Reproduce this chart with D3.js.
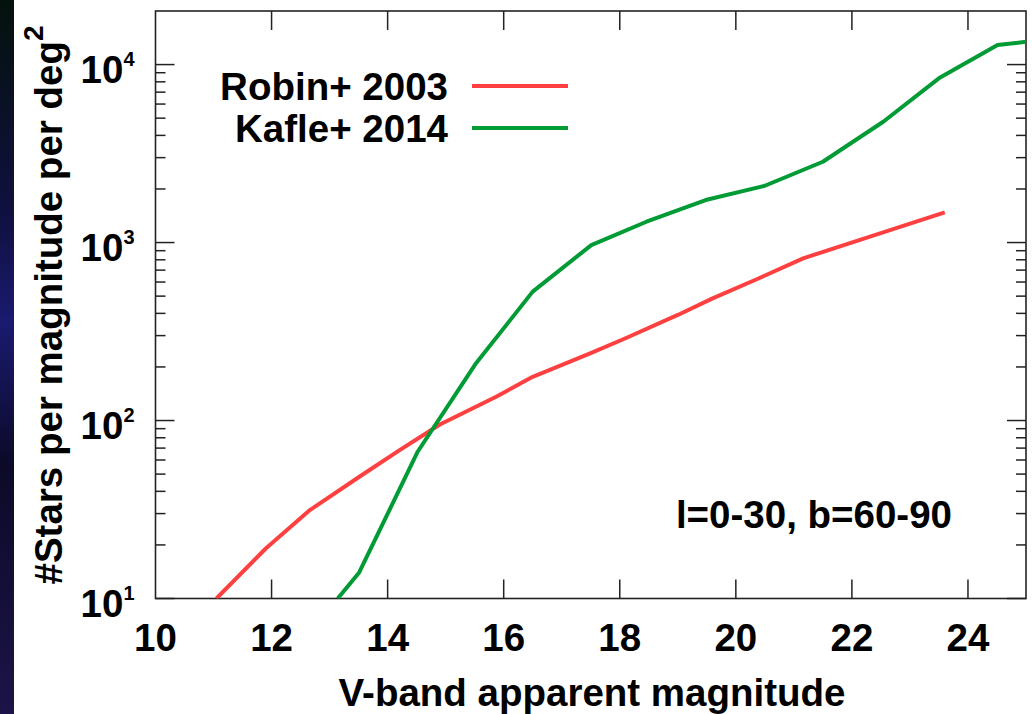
<!DOCTYPE html>
<html>
<head>
<meta charset="utf-8">
<script src="https://cdn.jsdelivr.net/npm/d3@7"></script>
<style>
  html, body { margin: 0; padding: 0; background: #fff; }
  svg { display: block; }
  text { font-family: "Liberation Sans", Arial, Helvetica, sans-serif; font-weight: bold; fill: #000; }
</style>
</head>
<body>
<svg id="chart" width="1033" height="714"></svg>
<script>
// ---- data ----
const seriesNames = ["Robin+ 2003", "Kafle+ 2014"];
const seriesColors = ["#ff4040", "#009b34"];
const robinMag = [11.05, 11.9, 12.66, 13.5, 14.2, 14.9, 15.87, 16.5, 17.5, 18.1, 19.0, 19.6, 20.4, 21.16, 22.71, 23.6];
const robinVal = [10, 19.1, 31.4, 48, 68, 95, 136, 176, 239, 290, 392, 486, 630, 815, 1191, 1479];
const kafleMag = [13.14, 13.51, 14.52, 15.51, 16.5, 17.51, 18.46, 19.48, 20.5, 21.5, 22.54, 23.52, 24.51, 25.0];
const kafleVal = [10, 14.0, 67, 207, 530, 968, 1309, 1733, 2085, 2845, 4775, 8470, 12880, 13430];
const xTicks = [10, 12, 14, 16, 18, 20, 22, 24];
const yTicks = [10, 100, 1000, 10000];
const xLabel = "V-band apparent magnitude";
const yLabel = "#Stars per magnitude per deg";
const yLabelSup = "2";
const annotation = "l=0-30, b=60-90";

// ---- layout ----
const svg = d3.select("#chart");
const L = 155.5, R = 1026, T = 11, B = 598.5;
const FS = 38.5;
const x = d3.scaleLinear().domain([10, 25]).range([L, R]);
const y = d3.scaleLog().domain([10, 20000]).range([B, T]);

// decorative slide strip on the left
const defs = svg.append("defs");
const grad = defs.append("linearGradient").attr("id", "bg").attr("x1", 0).attr("y1", 0).attr("x2", 0).attr("y2", 1);
grad.append("stop").attr("offset", "0%").attr("stop-color", "#04120c");
grad.append("stop").attr("offset", "30%").attr("stop-color", "#101040");
grad.append("stop").attr("offset", "45%").attr("stop-color", "#1a1a70");
grad.append("stop").attr("offset", "65%").attr("stop-color", "#0c0a28");
grad.append("stop").attr("offset", "100%").attr("stop-color", "#1c1448");
svg.append("rect").attr("x", 0).attr("y", 0).attr("width", 14).attr("height", 714).attr("fill", "url(#bg)");

defs.append("clipPath").attr("id", "plotclip")
  .append("rect").attr("x", L).attr("y", T).attr("width", R - L).attr("height", B - T);

// minor ticks for log axis
const minorVals = [];
for (let k = 1; k <= 4; k++) {
  for (let m = 2; m <= 9; m++) {
    const v = m * Math.pow(10, k);
    if (v < 20000) minorVals.push(v);
  }
}

const tickColor = "#222";
const axes = svg.append("g").attr("stroke", tickColor).attr("stroke-width", 1.5);
yTicks.forEach(v => {
  axes.append("line").attr("x1", L).attr("x2", L + 19).attr("y1", y(v)).attr("y2", y(v));
  axes.append("line").attr("x1", R).attr("x2", R - 19).attr("y1", y(v)).attr("y2", y(v));
});
minorVals.forEach(v => {
  axes.append("line").attr("x1", L).attr("x2", L + 10).attr("y1", y(v)).attr("y2", y(v));
  axes.append("line").attr("x1", R).attr("x2", R - 10).attr("y1", y(v)).attr("y2", y(v));
});
xTicks.filter(v => v > 10).forEach(v => {
  axes.append("line").attr("x1", x(v)).attr("x2", x(v)).attr("y1", B).attr("y2", B - 19);
  axes.append("line").attr("x1", x(v)).attr("x2", x(v)).attr("y1", T).attr("y2", T + 19);
});
svg.append("rect").attr("x", L).attr("y", T).attr("width", R - L).attr("height", B - T)
  .attr("fill", "none").attr("stroke", tickColor).attr("stroke-width", 1.6);

// tick labels
svg.append("g").selectAll("text").data(xTicks).join("text")
  .attr("x", d => x(d)).attr("y", B + 52)
  .attr("text-anchor", "middle").attr("font-size", FS)
  .text(d => d);

const yl = svg.append("g").selectAll("text").data(yTicks).join("text")
  .attr("x", L - 21).attr("y", d => y(d) + 18)
  .attr("text-anchor", "end").attr("font-size", FS);
yl.append("tspan").text("10");
yl.append("tspan").attr("font-size", 20).attr("dy", -17).text(d => Math.round(Math.log10(d)));

// axis titles
svg.append("text").attr("x", 592).attr("y", 706).attr("text-anchor", "middle")
  .attr("font-size", FS).text(xLabel);
const yt = svg.append("text").attr("transform", "translate(62,305) rotate(-90)")
  .attr("text-anchor", "middle").attr("font-size", FS);
yt.append("tspan").text(yLabel);
yt.append("tspan").attr("font-size", 28).attr("dy", -19).text(yLabelSup);

// lines
const line = d3.line().x(d => x(d[0])).y(d => y(d[1]));
const series = [
  d3.zip(robinMag, robinVal),
  d3.zip(kafleMag, kafleVal)
];
const plot = svg.append("g").attr("clip-path", "url(#plotclip)");
series.forEach((s, i) => {
  plot.append("path").datum(s).attr("d", line)
    .attr("fill", "none").attr("stroke", seriesColors[i]).attr("stroke-width", 4)
    .attr("stroke-linejoin", "round");
});

// legend
seriesNames.forEach((name, i) => {
  const yy = 86 + i * 42;
  svg.append("text").attr("x", 448).attr("y", yy + 13.5).attr("text-anchor", "end")
    .attr("font-size", FS).text(name);
  svg.append("line").attr("x1", 472).attr("x2", 568).attr("y1", yy).attr("y2", yy)
    .attr("stroke", seriesColors[i]).attr("stroke-width", 4);
});

// annotation
svg.append("text").attr("x", 952).attr("y", 528).attr("text-anchor", "end")
  .attr("font-size", FS).text(annotation);
</script>
</body>
</html>
